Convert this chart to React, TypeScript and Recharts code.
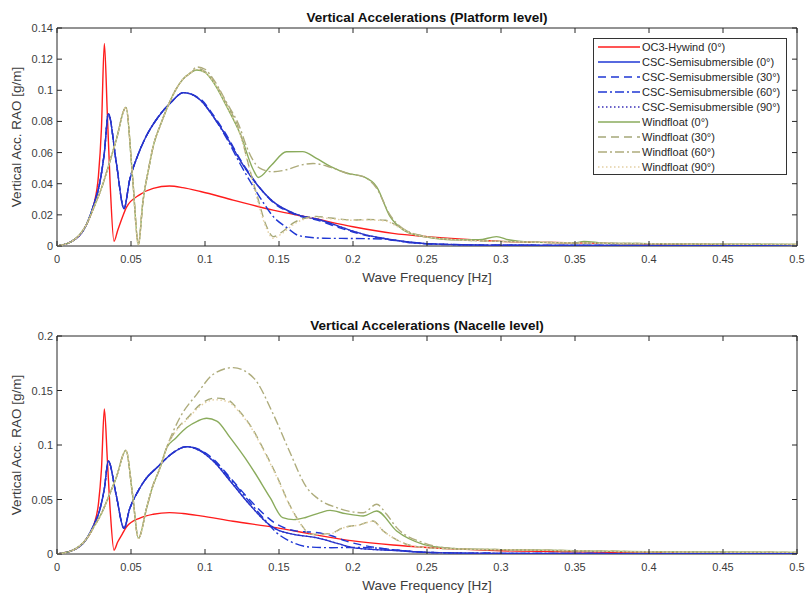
import { LineChart, Line, XAxis, YAxis, ReferenceArea, Legend } from 'recharts';

type Pt = [number, number];

const freqTicks = [0, 0.05, 0.1, 0.15, 0.2, 0.25, 0.3, 0.35, 0.4, 0.45, 0.5];
const platformTicks = [0, 0.02, 0.04, 0.06, 0.08, 0.1, 0.12, 0.14];
const nacelleTicks = [0, 0.05, 0.1, 0.15, 0.2];

const seriesNames = [
  'OC3-Hywind (0°)',
  'CSC-Semisubmersible (0°)',
  'CSC-Semisubmersible (30°)',
  'CSC-Semisubmersible (60°)',
  'CSC-Semisubmersible (90°)',
  'Windfloat (0°)',
  'Windfloat (30°)',
  'Windfloat (60°)',
  'Windfloat (90°)',
];

// ---- platform level, [frequency Hz, RAO g/m] ----
const hywindPlatform: Pt[] = [
  [0, 0], [0.01, 0.003], [0.02, 0.014], [0.025, 0.027], [0.028, 0.045], [0.03, 0.075], [0.032, 0.13],
  [0.034, 0.085], [0.036, 0.038], [0.0385, 0.003], [0.041, 0.01], [0.044, 0.018], [0.047, 0.025],
  [0.056, 0.033], [0.065, 0.037], [0.076, 0.0385], [0.085, 0.0375], [0.097, 0.035], [0.119, 0.0295],
  [0.146, 0.023], [0.173, 0.0178], [0.2, 0.0124], [0.227, 0.0081], [0.25, 0.006], [0.28, 0.004],
  [0.3, 0.003], [0.35, 0.002], [0.4, 0.0012], [0.5, 0.0006],
];

const cscPlatformRise: Pt[] = [
  [0, 0], [0.01, 0.003], [0.02, 0.014], [0.025, 0.027], [0.029, 0.041], [0.032, 0.06], [0.0347, 0.085],
  [0.04, 0.054], [0.0453, 0.024], [0.049, 0.042], [0.0545, 0.058], [0.0595, 0.069], [0.0685, 0.083],
  [0.0775, 0.0927], [0.0854, 0.0985],
];
const cscPlatformTail0: Pt[] = [
  [0.0968, 0.0938], [0.1057, 0.083], [0.1147, 0.07], [0.1236, 0.0552], [0.1327, 0.0424], [0.146, 0.0285],
  [0.16, 0.021], [0.178, 0.0167], [0.19, 0.0128], [0.2, 0.0095], [0.21, 0.0068], [0.22, 0.005],
  [0.23, 0.0035], [0.25, 0.0015], [0.3, 0.0005], [0.5, 0.0002],
];
const cscPlatformTail30: Pt[] = [
  [0.0968, 0.0945], [0.1057, 0.084], [0.1147, 0.071], [0.1236, 0.056], [0.1327, 0.043], [0.146, 0.028],
  [0.16, 0.0205], [0.178, 0.016], [0.19, 0.012], [0.2, 0.009], [0.21, 0.0065], [0.22, 0.0048],
  [0.23, 0.0033], [0.25, 0.0015], [0.3, 0.0005], [0.5, 0.0002],
];
const cscPlatformTail60: Pt[] = [
  [0.0968, 0.094], [0.1057, 0.083], [0.1147, 0.069], [0.1236, 0.053], [0.1327, 0.038], [0.14, 0.027],
  [0.146, 0.019], [0.155, 0.012], [0.164, 0.0065], [0.18, 0.005], [0.2, 0.0048], [0.22, 0.0045],
  [0.24, 0.002], [0.26, 0.001], [0.3, 0.0005], [0.5, 0.0002],
];

const windfloatPlatformRise: Pt[] = [
  [0, 0], [0.01, 0.003], [0.02, 0.014], [0.025, 0.025], [0.03, 0.037], [0.035, 0.052], [0.04, 0.068],
  [0.0466, 0.089], [0.051, 0.045], [0.055, 0.001], [0.058, 0.028], [0.062, 0.05], [0.065, 0.064],
  [0.07, 0.078], [0.075, 0.09], [0.08, 0.1], [0.085, 0.107], [0.09, 0.111],
];
const windfloatPlatformTail0: Pt[] = [
  [0.0944, 0.113], [0.1, 0.1115], [0.105, 0.106], [0.1147, 0.0895], [0.1236, 0.0724], [0.1327, 0.0488],
  [0.136, 0.044], [0.145, 0.052], [0.155, 0.0605], [0.166, 0.0606], [0.175, 0.0565], [0.185, 0.051],
  [0.196, 0.0467], [0.207, 0.0445], [0.216, 0.038], [0.225, 0.019], [0.234, 0.0103], [0.245, 0.0065],
  [0.255, 0.005], [0.27, 0.004], [0.285, 0.004], [0.297, 0.006], [0.305, 0.004], [0.32, 0.0025],
  [0.35, 0.002], [0.356, 0.003], [0.37, 0.0018], [0.4, 0.0015], [0.45, 0.0012], [0.5, 0.001],
];
const windfloatPlatformTail30: Pt[] = [
  [0.0944, 0.114], [0.1, 0.112], [0.105, 0.107], [0.1147, 0.091], [0.1236, 0.073], [0.13, 0.05],
  [0.135, 0.033], [0.1417, 0.0124], [0.146, 0.006], [0.152, 0.009], [0.16, 0.015], [0.168, 0.018],
  [0.175, 0.019], [0.185, 0.018], [0.2, 0.0167], [0.21, 0.017], [0.222, 0.0165], [0.23, 0.013],
  [0.24, 0.008], [0.25, 0.006], [0.27, 0.004], [0.3, 0.003], [0.35, 0.002], [0.4, 0.0015], [0.5, 0.001],
];
const windfloatPlatformTail60: Pt[] = [
  [0.0944, 0.115], [0.1, 0.1135], [0.105, 0.108], [0.1147, 0.092], [0.1236, 0.076], [0.128, 0.064],
  [0.137, 0.05], [0.146, 0.0477], [0.155, 0.049], [0.165, 0.052], [0.173, 0.053], [0.185, 0.0505],
  [0.196, 0.0467], [0.207, 0.0445], [0.216, 0.037], [0.225, 0.02], [0.234, 0.011], [0.25, 0.006],
  [0.27, 0.004], [0.3, 0.003], [0.35, 0.002], [0.4, 0.0015], [0.5, 0.001],
];
const windfloatPlatformTail90: Pt[] = [
  [0.0944, 0.1135], [0.1, 0.1115], [0.105, 0.1065], [0.1147, 0.09], [0.1236, 0.072], [0.13, 0.049],
  [0.135, 0.031], [0.1417, 0.011], [0.146, 0.005], [0.152, 0.008], [0.16, 0.014], [0.168, 0.0175],
  [0.175, 0.0185], [0.185, 0.0175], [0.2, 0.0165], [0.21, 0.0168], [0.222, 0.016], [0.23, 0.0125],
  [0.24, 0.0078], [0.25, 0.0058], [0.27, 0.004], [0.3, 0.003], [0.35, 0.002], [0.4, 0.0015], [0.5, 0.001],
];

// ---- nacelle level ----
const hywindNacelle: Pt[] = [
  [0, 0], [0.01, 0.003], [0.02, 0.014], [0.025, 0.027], [0.028, 0.046], [0.03, 0.077], [0.032, 0.133],
  [0.034, 0.087], [0.036, 0.039], [0.0385, 0.0035], [0.041, 0.011], [0.044, 0.018], [0.047, 0.025],
  [0.056, 0.033], [0.065, 0.0365], [0.076, 0.038], [0.085, 0.0372], [0.097, 0.035], [0.119, 0.03],
  [0.148, 0.0242], [0.173, 0.018], [0.2, 0.012], [0.227, 0.0082], [0.25, 0.006], [0.28, 0.004],
  [0.3, 0.003], [0.35, 0.002], [0.4, 0.0012], [0.5, 0.0006],
];

const cscNacelleRise: Pt[] = [
  [0, 0], [0.01, 0.003], [0.02, 0.014], [0.025, 0.027], [0.029, 0.041], [0.032, 0.06], [0.0347, 0.0853],
  [0.04, 0.054], [0.0453, 0.0235], [0.049, 0.041], [0.0545, 0.057], [0.0595, 0.068], [0.0685, 0.0805],
  [0.0775, 0.092], [0.0876, 0.0985],
];
const cscNacelleTail0: Pt[] = [
  [0.0968, 0.0945], [0.1057, 0.085], [0.117, 0.067], [0.13, 0.0456], [0.144, 0.0263], [0.1484, 0.0226],
  [0.16, 0.018], [0.175, 0.015], [0.19, 0.0095], [0.2, 0.0058], [0.213, 0.0042], [0.226, 0.0034],
  [0.25, 0.0015], [0.3, 0.0006], [0.5, 0.0002],
];
const cscNacelleTail30: Pt[] = [
  [0.0968, 0.0955], [0.1057, 0.087], [0.117, 0.07], [0.13, 0.05], [0.148, 0.0278], [0.162, 0.021],
  [0.173, 0.02], [0.185, 0.017], [0.195, 0.012], [0.207, 0.008], [0.22, 0.005], [0.235, 0.003],
  [0.25, 0.0015], [0.3, 0.0006], [0.5, 0.0002],
];
const cscNacelleTail60: Pt[] = [
  [0.0968, 0.095], [0.1057, 0.086], [0.117, 0.069], [0.13, 0.048], [0.14, 0.032], [0.148, 0.02],
  [0.157, 0.012], [0.171, 0.0064], [0.185, 0.0058], [0.2, 0.006], [0.215, 0.0055], [0.23, 0.0035],
  [0.25, 0.0015], [0.3, 0.0006], [0.5, 0.0002],
];

const windfloatNacelleRise: Pt[] = [
  [0, 0], [0.01, 0.003], [0.02, 0.014], [0.025, 0.025], [0.03, 0.037], [0.035, 0.053], [0.04, 0.07],
  [0.0466, 0.0951], [0.051, 0.055], [0.055, 0.0144], [0.0606, 0.0425], [0.0644, 0.061], [0.0696, 0.079],
  [0.0741, 0.0975],
];
const windfloatNacelleTail0: Pt[] = [
  [0.08, 0.106], [0.0876, 0.116], [0.095, 0.122], [0.1011, 0.1245], [0.108, 0.122], [0.117, 0.1067],
  [0.13, 0.0823], [0.144, 0.0517], [0.1525, 0.0333], [0.16, 0.0315], [0.168, 0.0335], [0.178, 0.038],
  [0.1845, 0.04], [0.195, 0.037], [0.207, 0.0349], [0.216, 0.0394], [0.2295, 0.0211], [0.2475, 0.0089],
  [0.26, 0.006], [0.275, 0.0046], [0.3, 0.004], [0.35, 0.003], [0.4, 0.002], [0.5, 0.0015],
];
const windfloatNacelleTail30: Pt[] = [
  [0.083, 0.118], [0.0876, 0.124], [0.0966, 0.137], [0.1068, 0.143], [0.115, 0.1415], [0.1233, 0.131],
  [0.132, 0.115], [0.139, 0.0975], [0.148, 0.0731], [0.157, 0.0456], [0.1665, 0.0242], [0.171, 0.018],
  [0.1845, 0.0187], [0.1935, 0.0242], [0.205, 0.027], [0.2135, 0.0303], [0.2205, 0.0211], [0.227, 0.015],
  [0.24, 0.0075], [0.26, 0.005], [0.3, 0.004], [0.35, 0.003], [0.4, 0.002], [0.5, 0.0015],
];
const windfloatNacelleTail60: Pt[] = [
  [0.083, 0.125], [0.0944, 0.1465], [0.1056, 0.1649], [0.119, 0.171], [0.1327, 0.1618], [0.1462, 0.128],
  [0.157, 0.0945], [0.1687, 0.061], [0.1755, 0.0517], [0.189, 0.0425], [0.207, 0.0379], [0.216, 0.0456],
  [0.2227, 0.0364], [0.2295, 0.0242], [0.2475, 0.0104], [0.26, 0.006], [0.28, 0.0045], [0.3, 0.004],
  [0.35, 0.003], [0.4, 0.002], [0.5, 0.0015],
];
const windfloatNacelleTail90: Pt[] = [
  [0.083, 0.117], [0.0876, 0.123], [0.0966, 0.1355], [0.1068, 0.1415], [0.115, 0.14], [0.1233, 0.13],
  [0.132, 0.114], [0.139, 0.0965], [0.148, 0.072], [0.157, 0.045], [0.1665, 0.024], [0.171, 0.0178],
  [0.1845, 0.0185], [0.1935, 0.024], [0.205, 0.0268], [0.2135, 0.03], [0.2205, 0.021], [0.227, 0.015],
  [0.24, 0.0075], [0.26, 0.005], [0.3, 0.004], [0.35, 0.003], [0.4, 0.002], [0.5, 0.0015],
];

const platformSeries: Pt[][] = [
  hywindPlatform,
  [...cscPlatformRise, ...cscPlatformTail0],
  [...cscPlatformRise, ...cscPlatformTail30],
  [...cscPlatformRise, ...cscPlatformTail60],
  [...cscPlatformRise, ...cscPlatformTail0],
  [...windfloatPlatformRise, ...windfloatPlatformTail0],
  [...windfloatPlatformRise, ...windfloatPlatformTail30],
  [...windfloatPlatformRise, ...windfloatPlatformTail60],
  [...windfloatPlatformRise, ...windfloatPlatformTail90],
];

const nacelleSeries: Pt[][] = [
  hywindNacelle,
  [...cscNacelleRise, ...cscNacelleTail0],
  [...cscNacelleRise, ...cscNacelleTail30],
  [...cscNacelleRise, ...cscNacelleTail60],
  [...cscNacelleRise, ...cscNacelleTail0],
  [...windfloatNacelleRise, ...windfloatNacelleTail0],
  [...windfloatNacelleRise, ...windfloatNacelleTail30],
  [...windfloatNacelleRise, ...windfloatNacelleTail60],
  [...windfloatNacelleRise, ...windfloatNacelleTail90],
];

const lineStyles = [
  { color: '#ff1c1c', dash: undefined },
  { color: '#1f37d4', dash: undefined },
  { color: '#1f37d4', dash: '8 5' },
  { color: '#1f37d4', dash: '9 3 2 3' },
  { color: '#3a2fb8', dash: '1.5 2.5' },
  { color: '#8aab5c', dash: undefined },
  { color: '#a5a878', dash: '8 5' },
  { color: '#aeac7c', dash: '9 3 2 3' },
  { color: '#e4cfa2', dash: '1.5 2.5' },
];

const FONT = '"Liberation Sans", Arial, sans-serif';
const AXIS = '#262626';
const TEXT = '#3c3c3c';
const W = 811;
const H = 297;
const PLOT_LEFT = 57;
const PLOT_RIGHT = 797;
const PLOT_H = 218;
const XAXIS_H = 40;

const toRows = (pts: Pt[]) => pts.map(([f, v]) => ({ f, v }));

const LegendBox = () => (
  <div
    style={{
      width: 194,
      height: 137,
      boxSizing: 'border-box',
      border: '1px solid #333',
      background: '#fff',
      paddingTop: 1,
      fontFamily: FONT,
      fontSize: 11,
      color: '#262626',
    }}
  >
    {seriesNames.map((name, i) => (
      <div key={name} style={{ display: 'flex', alignItems: 'center', height: 14.9 }}>
        <svg width={48} height={10} style={{ flex: 'none' }}>
          <line x1={4} x2={46} y1={5} y2={5} stroke={lineStyles[i].color} strokeWidth={1.4} strokeDasharray={lineStyles[i].dash} />
        </svg>
        <span style={{ whiteSpace: 'nowrap' }}>{name}</span>
      </div>
    ))}
  </div>
);

type PanelProps = {
  title: string;
  yMax: number;
  yTicks: number[];
  series: Pt[][];
  plotTop: number;
  titleOffset: number;
  withLegend?: boolean;
};

function RaoPanel({ title, yMax, yTicks, series, plotTop, titleOffset, withLegend }: PanelProps) {
  const plotBottom = plotTop + PLOT_H;

  const XTick = ({ x, payload }: any) => (
    <g>
      <line x1={x} x2={x} y1={plotBottom} y2={plotBottom - 5} stroke={AXIS} />
      <line x1={x} x2={x} y1={plotTop} y2={plotTop + 5} stroke={AXIS} />
      <text x={x} y={plotBottom + 17} textAnchor="middle" fontSize={11} fill={TEXT} fontFamily={FONT}>
        {payload.value}
      </text>
    </g>
  );

  const YTick = ({ y, payload }: any) => (
    <g>
      <line x1={PLOT_LEFT} x2={PLOT_LEFT + 5} y1={y} y2={y} stroke={AXIS} />
      <line x1={PLOT_RIGHT} x2={PLOT_RIGHT - 5} y1={y} y2={y} stroke={AXIS} />
      <text x={PLOT_LEFT - 4} y={y + 4} textAnchor="end" fontSize={11} fill={TEXT} fontFamily={FONT}>
        {payload.value}
      </text>
    </g>
  );

  const xLabel = () => (
    <text x={(PLOT_LEFT + PLOT_RIGHT) / 2} y={plotBottom + 36} textAnchor="middle" fontSize={13.5} fill={TEXT} fontFamily={FONT}>
      Wave Frequency [Hz]
    </text>
  );

  const yLabel = () => {
    const cy = plotTop + PLOT_H / 2;
    return (
      <text x={16} y={cy} transform={`rotate(-90, 16, ${cy})`} textAnchor="middle" dominantBaseline="central" fontSize={13.5} fill={TEXT} fontFamily={FONT}>
        Vertical Acc. RAO [g/m]
      </text>
    );
  };

  return (
    <LineChart
      width={W}
      height={H}
      margin={{ top: plotTop, right: W - PLOT_RIGHT, bottom: H - plotBottom - XAXIS_H, left: 0 }}
    >
      <XAxis
        type="number"
        dataKey="f"
        domain={[0, 0.5]}
        ticks={freqTicks}
        height={XAXIS_H}
        axisLine={false}
        tickLine={false}
        tickSize={0}
        tickMargin={0}
        tick={XTick}
        interval={0}
        label={xLabel}
      />
      <YAxis
        type="number"
        domain={[0, yMax]}
        ticks={yTicks}
        width={PLOT_LEFT}
        axisLine={false}
        tickLine={false}
        tickSize={0}
        tickMargin={0}
        tick={YTick}
        interval={0}
        allowDataOverflow
        label={yLabel}
      />
      <ReferenceArea
        x1={0}
        x2={0.5}
        y1={0}
        y2={yMax}
        fill="none"
        stroke={AXIS}
        strokeWidth={1}
        label={{ value: title, position: 'top', offset: titleOffset, fontSize: 13.5, fontWeight: 'bold', fill: '#111', fontFamily: FONT }}
      />
      {series.map((pts, i) => (
        <Line
          key={seriesNames[i]}
          name={seriesNames[i]}
          data={toRows(pts)}
          dataKey="v"
          type="monotone"
          stroke={lineStyles[i].color}
          strokeWidth={1.4}
          strokeDasharray={lineStyles[i].dash}
          dot={false}
          activeDot={false}
          isAnimationActive={false}
        />
      ))}
      {withLegend && (
        <Legend
          layout="horizontal"
          verticalAlign="middle"
          align="center"
          content={() => <LegendBox />}
          wrapperStyle={{ left: 593, top: 38, width: 194, height: 137 }}
        />
      )}
    </LineChart>
  );
}

export default function App() {
  return (
    <div style={{ position: 'absolute', left: 0, top: 0, width: W, height: 594, background: '#fff', fontFamily: FONT }}>
      <RaoPanel
        title="Vertical Accelerations (Platform level)"
        yMax={0.14}
        yTicks={platformTicks}
        series={platformSeries}
        plotTop={28}
        titleOffset={6}
        withLegend
      />
      <RaoPanel
        title="Vertical Accelerations (Nacelle level)"
        yMax={0.2}
        yTicks={nacelleTicks}
        series={nacelleSeries}
        plotTop={39}
        titleOffset={6}
      />
    </div>
  );
}
